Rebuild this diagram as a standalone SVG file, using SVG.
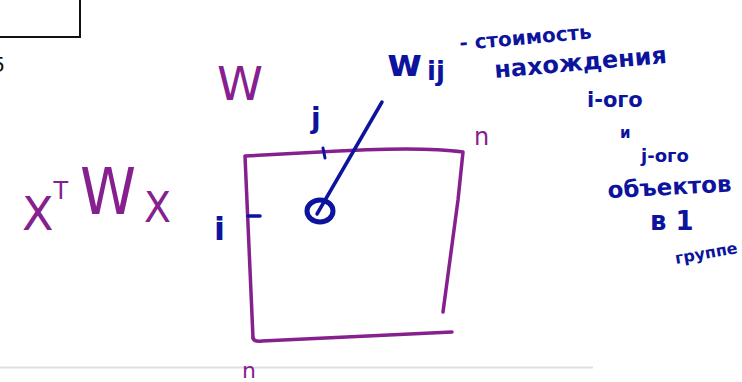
<svg xmlns="http://www.w3.org/2000/svg" width="742" height="382" viewBox="0 0 742 382">
<style>
.p{fill:none;stroke:#86208f;stroke-width:3.5;stroke-linecap:round;stroke-linejoin:round}
.b{fill:none;stroke:#0c149e;stroke-linecap:round;stroke-linejoin:round}
.tp{fill:#86208f;font-family:"DejaVu Sans",sans-serif}
.tb{fill:#0c149e;font-family:"DejaVu Sans",sans-serif;font-weight:bold}
</style>
<rect width="742" height="382" fill="#ffffff"/>
<path d="M0 37 H80 V0" fill="none" stroke="#111" stroke-width="2"/>
<text x="-8" y="72" font-family="Liberation Sans,sans-serif" font-size="22" fill="#111">5</text>
<line x1="0" y1="367.5" x2="593" y2="367.5" stroke="#dde0e4" stroke-width="2"/>

<g id="formula">
<text class="tp" x="22" y="230" font-size="46">X<tspan font-size="24" dy="-31">T</tspan></text>
<text class="tp" x="80" y="214" font-size="64" textLength="56" lengthAdjust="spacingAndGlyphs">W</text>
<text class="tp" x="144" y="222" font-size="42" textLength="27" lengthAdjust="spacingAndGlyphs">X</text>
</g>

<g id="matrix">
<text class="tp" x="217" y="100" font-size="46" textLength="46" lengthAdjust="spacingAndGlyphs">W</text>
<path class="p" d="M253 338 L245 156 L320 152 Q420 146 463 152 L458 200 L443 312"/>
<path class="p" d="M253 338 Q254 342 262 341 L452 332"/>
<text class="tp" x="474" y="145" font-size="24">n</text>
<text class="tp" x="242" y="378" font-size="22">n</text>
</g>

<g id="indices">
<text class="tb" x="311" y="128" font-size="28" font-weight="normal">j</text>
<line class="b" x1="323" y1="148" x2="325" y2="158" stroke-width="3"/>
<text class="tb" x="214" y="240" font-size="32" font-weight="normal">i</text>
<line class="b" x1="248" y1="216" x2="260" y2="216" stroke-width="3.5"/>
</g>

<g id="element">
<ellipse class="b" cx="320" cy="211" rx="13" ry="11" stroke-width="5"/>
</g>

<g id="connectors">
<line class="b" x1="317" y1="214" x2="382" y2="102" stroke-width="3.5"/>
</g>

<g id="label">
<text class="tb" x="387" y="76" font-size="38" font-weight="normal">w</text>
<text class="tb" x="427" y="80" font-size="26" font-weight="normal">ij</text>
<text class="tb" transform="rotate(-5 460 50)" x="460" y="50" font-size="20">- стоимость</text>
<text class="tb" transform="rotate(-5 495 78)" x="495" y="78" font-size="24">нахождения</text>
<text class="tb" x="587" y="107" font-size="21">i-ого</text>
<text class="tb" x="620" y="138" font-size="15">и</text>
<text class="tb" x="641" y="162" font-size="18">j-ого</text>
<text class="tb" transform="rotate(-3 608 198)" x="608" y="198" font-size="23">объектов</text>
<text class="tb" x="650" y="230" font-size="26">в 1</text>
<text class="tb" transform="rotate(-10 676 264)" x="676" y="264" font-size="16">группе</text>
</g>
</svg>
